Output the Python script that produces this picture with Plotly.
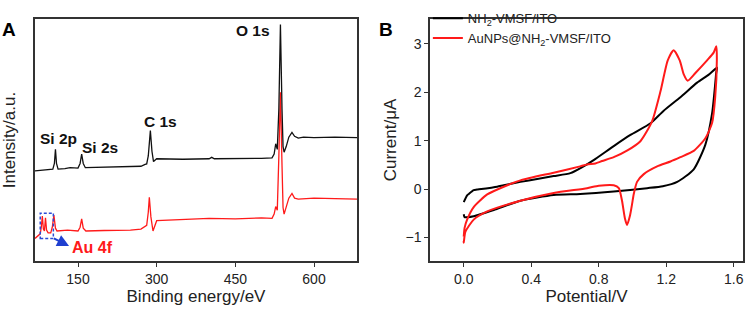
import plotly.graph_objects as go

# ---------------- Panel A: XPS survey ----------------
xps_be_black = [68, 80, 95, 102, 105, 107, 109, 112, 125, 135, 150, 154, 157, 160, 164,
                200, 240, 270, 278, 281, 284, 288, 291, 294, 300, 350, 400, 405, 410,
                450, 500, 520, 524, 527, 530, 533, 536, 539, 541, 543, 547, 552, 558,
                563, 570, 580, 600, 640, 682]
xps_int_black = [96, 96.5, 97.5, 98, 104, 119, 104, 98, 98.5, 99.5, 99, 104, 114, 104, 99.5,
                 100, 100, 101, 103, 103.5, 112, 139, 117, 106, 109, 108.5, 109, 110.5, 109,
                 109, 109.5, 110, 114, 125, 119, 162, 252, 162, 122, 116, 122, 132, 137,
                 133, 131, 132, 131.5, 132, 131.5]

xps_be_red = [68, 72, 78, 80, 82, 84, 86, 88, 90, 93, 98, 101, 104, 107, 110, 130, 150,
              154, 157, 160, 165, 200, 250, 270, 278, 281, 284, 286, 289, 293, 300, 350,
              400, 450, 500, 520, 524, 527, 530, 533, 536, 539, 541, 543, 547, 552, 558,
              563, 570, 600, 640, 682]
xps_int_red = [24, 26, 29, 36, 48, 34, 32, 46, 33, 30, 30, 36, 49, 35, 32, 33, 32,
               36, 45, 35, 32, 32.5, 33, 34, 37, 38, 52, 68, 47, 32, 43, 44,
               45.5, 45, 46, 45.5, 50, 58, 54, 112, 180, 102, 57, 50, 57, 67, 72,
               67, 66, 67, 66.5, 66]

xps_ticks = [150, 300, 450, 600]

# ---------------- Panel B: cyclic voltammograms ----------------
cv_v_black = [0.0, 0.02, 0.03, 0.059, 0.079, 0.198, 0.237, 0.336, 0.435, 0.533, 0.632,
              0.70, 0.77, 0.889, 0.988, 1.107, 1.185, 1.284, 1.383, 1.45, 1.501,
              1.496, 1.491, 1.472, 1.432, 1.363, 1.265, 1.180, 1.087, 0.889, 0.69,
              0.533, 0.336, 0.178, 0.059, 0.02, 0.005, 0.0]
cv_i_black = [-0.27, -0.13, -0.10, -0.02, -0.01, 0.05, 0.08, 0.15, 0.21, 0.27, 0.33,
              0.45, 0.60, 0.89, 1.12, 1.36, 1.62, 1.90, 2.20, 2.36, 2.51,
              2.40, 2.20, 1.57, 0.92, 0.41, 0.15, 0.06, 0.02, -0.05, -0.10,
              -0.12, -0.24, -0.43, -0.56, -0.58, -0.58, -0.52]

cv_v_red = [0.0, 0.005, 0.02, 0.059, 0.139, 0.237, 0.336, 0.533, 0.69, 0.731, 0.78,
            0.82, 0.889, 0.97, 1.047, 1.116, 1.166, 1.209, 1.244, 1.28, 1.304, 1.327,
            1.373, 1.442, 1.481, 1.497, 1.50, 1.49, 1.472, 1.432, 1.363, 1.284, 1.225,
            1.146, 1.067, 1.027, 1.007, 0.998, 0.985, 0.968, 0.955, 0.938, 0.919, 0.889,
            0.80, 0.731, 0.533, 0.336, 0.139, 0.059, 0.01, 0.0, 0.0]
cv_i_red = [-0.98, -0.80, -0.63, -0.37, -0.11, 0.05, 0.18, 0.34, 0.47, 0.51, 0.53,
            0.58, 0.66, 0.80, 0.99, 1.40, 2.02, 2.66, 2.87, 2.66, 2.37, 2.24,
            2.40, 2.66, 2.82, 2.95, 2.66, 1.89, 1.37, 1.05, 0.79, 0.66, 0.57,
            0.47, 0.31, 0.15, -0.11, -0.30, -0.55, -0.74, -0.60, -0.24, 0.02, 0.08,
            0.07, 0.02, -0.08, -0.24, -0.46, -0.63, -0.88, -1.11, -1.07]

cv_xticks = [0.0, 0.4, 0.8, 1.2, 1.6]
cv_xtick_text = ["0.0", "0.4", "0.8", "1.2", "1.6"]
cv_yticks = [-1, 0, 1, 2, 3]

FONT = "Arial, Liberation Sans, sans-serif"
AXC = "#333333"

fig = go.Figure()

fig.add_trace(go.Scatter(x=xps_be_red, y=xps_int_red, mode="lines",
                         line=dict(color="#ff1a1a", width=1.3), showlegend=False,
                         xaxis="x", yaxis="y"))
fig.add_trace(go.Scatter(x=xps_be_black, y=xps_int_black, mode="lines",
                         line=dict(color="#111111", width=1.3), showlegend=False,
                         xaxis="x", yaxis="y"))

fig.add_trace(go.Scatter(x=cv_v_black, y=cv_i_black, mode="lines", name="NH<sub>2</sub>-VMSF/ITO",
                         line=dict(color="#000000", width=2, shape="spline", smoothing=0.6),
                         xaxis="x2", yaxis="y2"))
fig.add_trace(go.Scatter(x=cv_v_red, y=cv_i_red, mode="lines", name="AuNPs@NH<sub>2</sub>-VMSF/ITO",
                         line=dict(color="#ff1a1a", width=2, shape="spline", smoothing=0.6),
                         xaxis="x2", yaxis="y2"))

axis_common = dict(showline=True, linecolor=AXC, linewidth=1.5, mirror=True,
                   showgrid=False, zeroline=False, automargin=False,
                   tickfont=dict(family=FONT, size=14, color="#222"),
                   title_font=dict(family=FONT, size=17, color="#222"))

fig.update_layout(
    width=754, height=309,
    margin=dict(l=35, r=11, t=3, b=48),
    paper_bgcolor="white", plot_bgcolor="white",
    font=dict(family=FONT, color="#222"),
    xaxis=dict(domain=[0, 0.4548], range=[68, 682], tickvals=xps_ticks,
               ticks="outside", ticklen=4, tickcolor=AXC,
               title=dict(text="Binding energy/eV", standoff=4), anchor="y", **axis_common),
    yaxis=dict(domain=[0, 1], range=[0, 258], showticklabels=False, ticks="",
               title=dict(text="Intensity/a.u.", standoff=13), anchor="x", **axis_common),
    xaxis2=dict(domain=[0.5579, 1], range=[-0.2, 1.655], tickvals=cv_xticks,
                ticktext=cv_xtick_text, ticks="outside", ticklen=4, tickcolor=AXC,
                title=dict(text="Potential/V", standoff=4), anchor="y2", **axis_common),
    yaxis2=dict(domain=[0, 1], range=[-1.485, 3.515], tickvals=cv_yticks,
                ticks="outside", ticklen=4, tickcolor=AXC,
                title=dict(text="Current/μA", standoff=5), anchor="x2", **axis_common),
    legend=dict(x=0.5579 - 0.003, y=1.065, xanchor="left", yanchor="top",
                bgcolor="rgba(0,0,0,0)", font=dict(family=FONT, size=13, color="#222"),
                tracegroupgap=0, itemwidth=30),
)

# Peak labels
lab = dict(family=FONT, size=15.5, color="#111")
for txt, x, y in [("O 1s", 484, 246), ("C 1s", 307, 149), ("Si 2p", 112, 131), ("Si 2s", 191, 121)]:
    fig.add_annotation(x=x, y=y, xref="x", yref="y", text=f"<b>{txt}</b>", showarrow=False,
                       font=lab)
fig.add_annotation(x=177, y=14, xref="x", yref="y", text="<b>Au 4f</b>", showarrow=False,
                   font=dict(family=FONT, size=16, color="#ff1a1a"))

# Dashed box around Au 4f peaks and arrow
fig.add_shape(type="rect", xref="x", yref="y", x0=78, x1=103, y0=24, y1=51,
              line=dict(color="#2a4bd7", width=1.5, dash="3px,2px"))
fig.add_annotation(x=133, y=16, ax=101, ay=25, xref="x", yref="y", axref="x", ayref="y",
                   text="", showarrow=True, arrowhead=2, arrowsize=1.2, arrowwidth=2,
                   arrowcolor="#1f3fd0")

# Panel letters
fig.add_annotation(x=0, y=1.0, xref="paper", yref="paper", xanchor="left", yanchor="top",
                   text="<b>A</b>", showarrow=False, xshift=-35, yshift=2,
                   font=dict(family=FONT, size=19, color="#000"))
fig.add_annotation(x=0.5579, y=1.0, xref="paper", yref="paper", xanchor="left", yanchor="top",
                   text="<b>B</b>", showarrow=False, xshift=-53, yshift=2,
                   font=dict(family=FONT, size=19, color="#000"))

fig.write_html("out.html", config={"displayModeBar": False},
               post_script="document.body.style.margin='0';document.body.style.overflow='hidden';")
